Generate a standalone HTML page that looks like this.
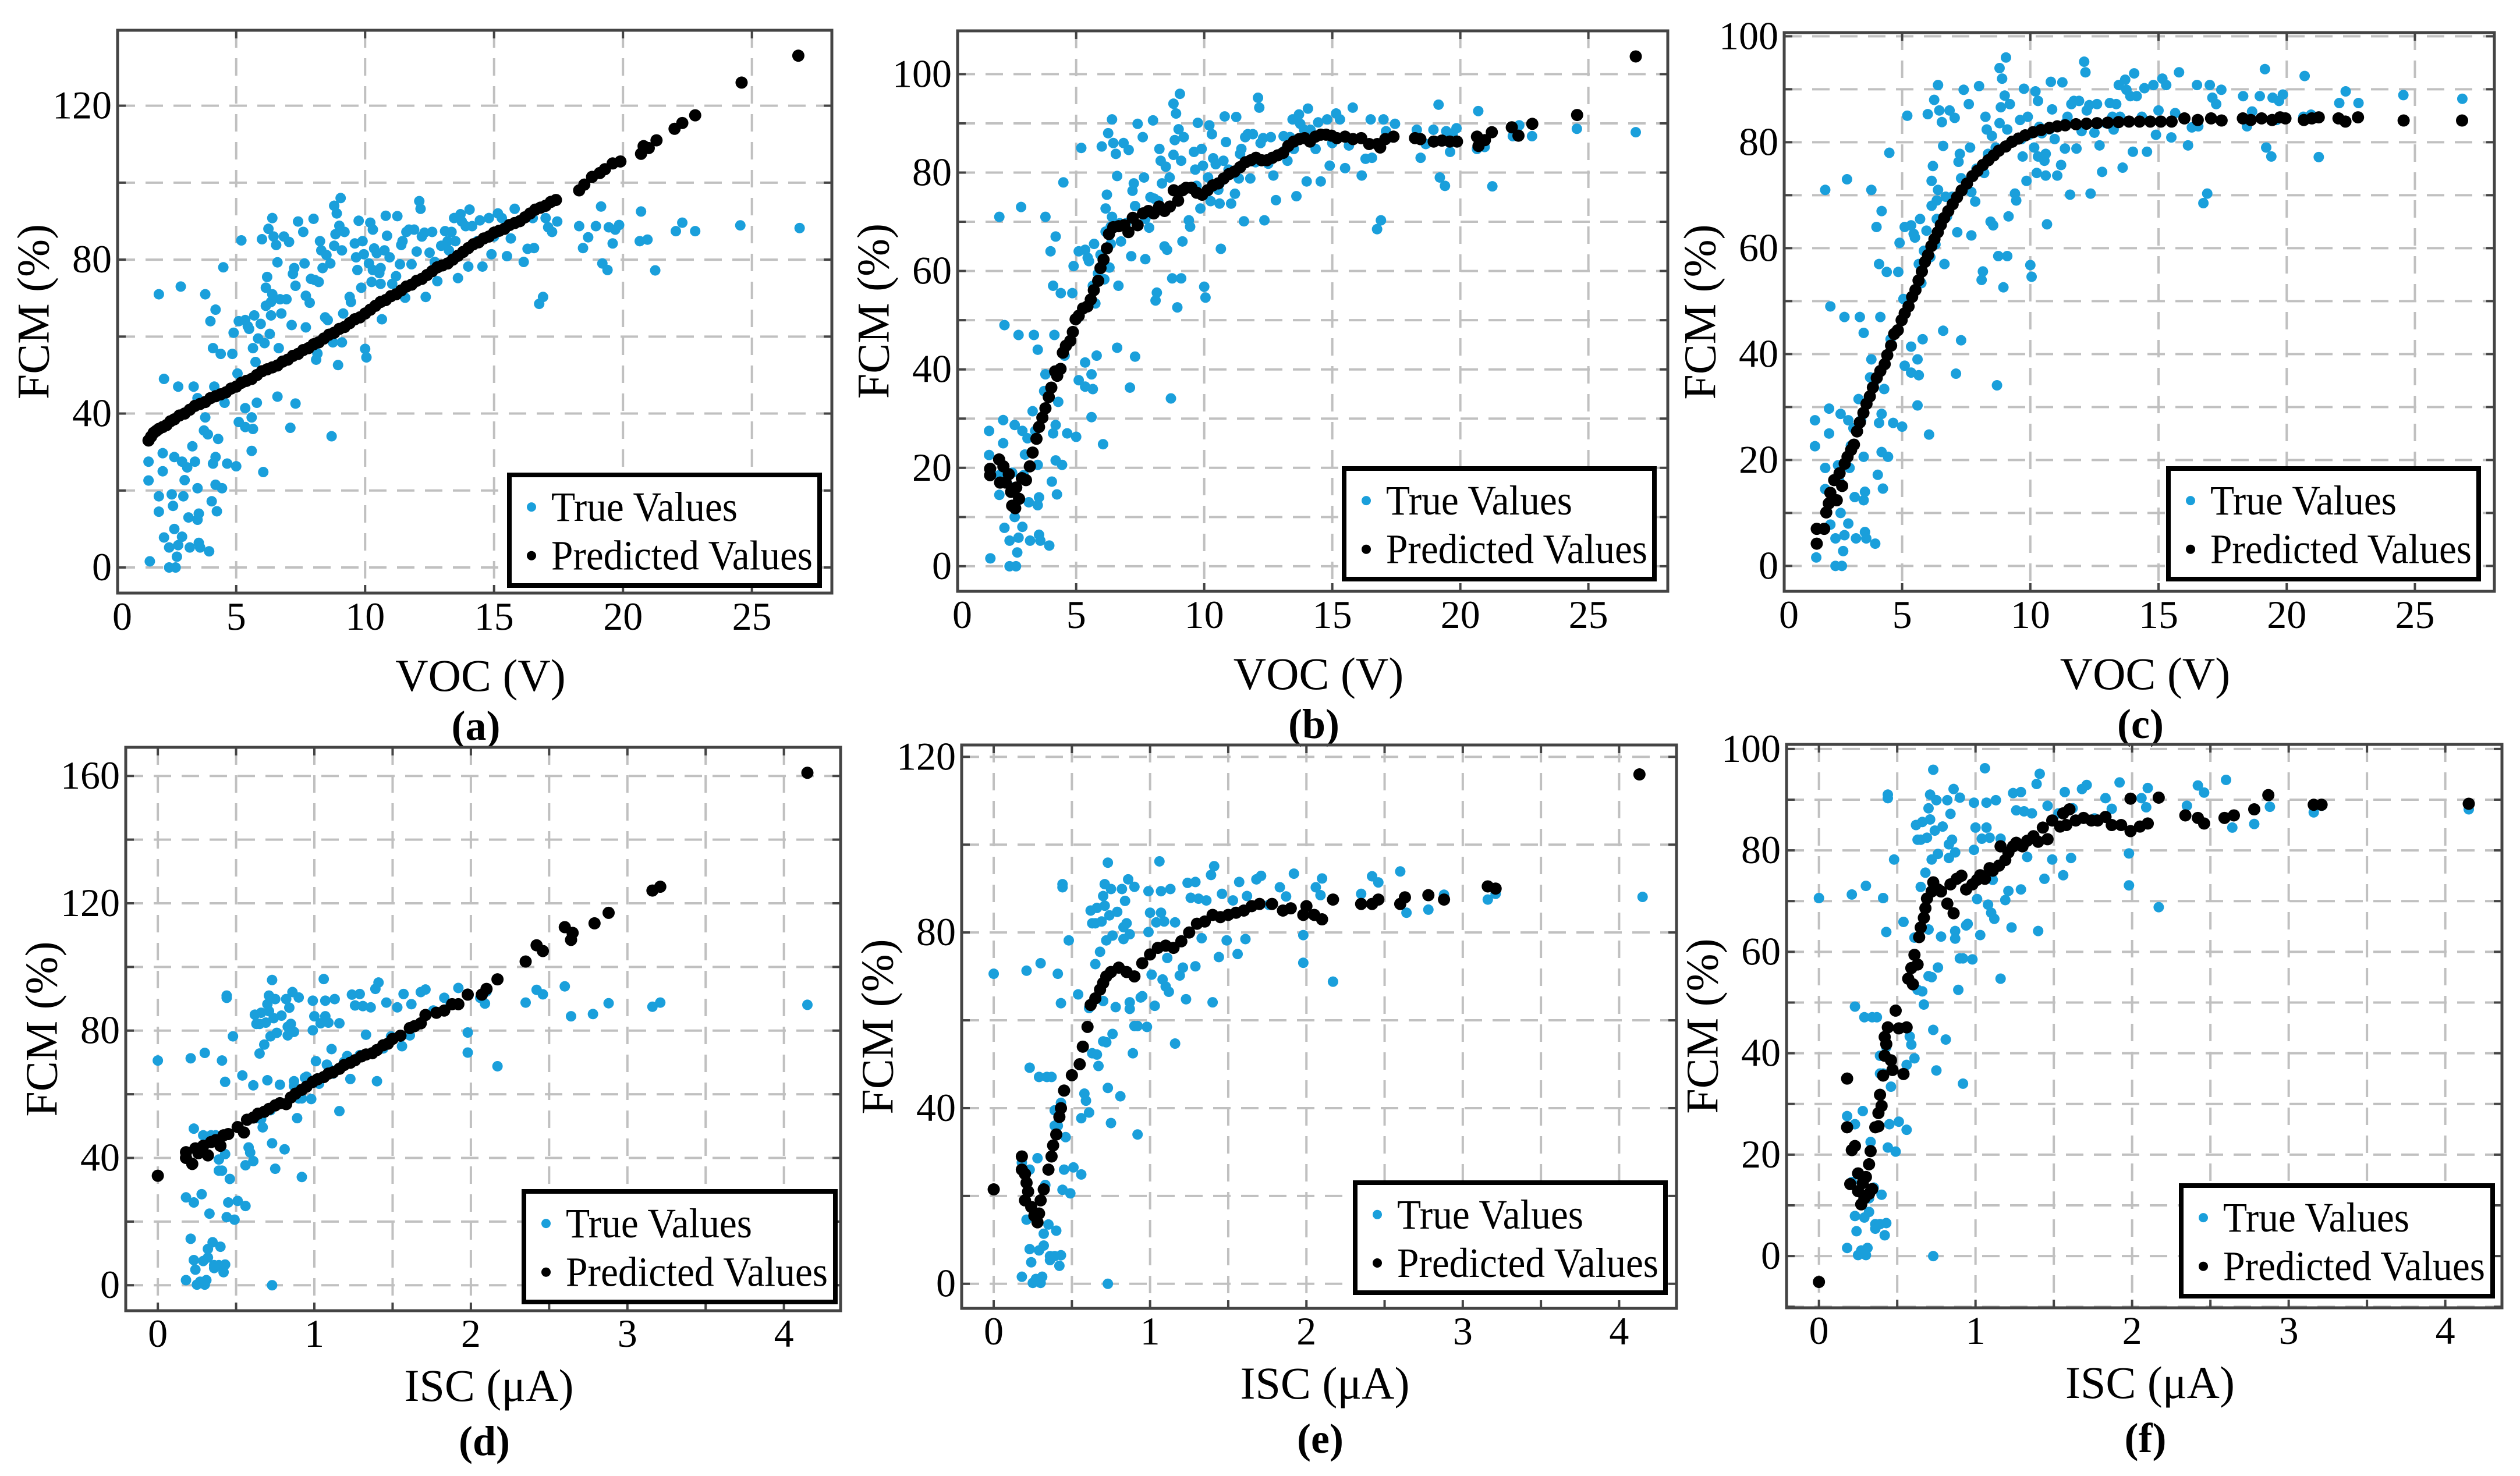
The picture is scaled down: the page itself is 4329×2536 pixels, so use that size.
<!DOCTYPE html>
<html><head><meta charset="utf-8"><style>
html,body{margin:0;padding:0;background:#fff;}
svg, svg text{font-family:"Liberation Serif","DejaVu Serif",serif;}
</style></head><body>
<svg id="fig" width="4329" height="2531" viewBox="0 0 4329 2531" xmlns="http://www.w3.org/2000/svg" font-family="Liberation Serif, DejaVu Serif, serif"></svg>
<script>
// ---- True values (VOC vs FCM), shared by panels a, b, c ----
const vocX=[1.65,1.6,1.6,2.0,2.0,2.0,2.15,2.15,2.2,2.2,2.4,2.4,2.5,2.55,2.6,2.6,2.65,2.7,2.75,2.75,2.85,2.9,2.9,2.95,3.0,3.1,3.15,3.2,3.3,3.35,3.4,3.5,3.5,3.5,3.55,3.55,3.6,3.75,3.8,3.8,3.9,3.95,4.0,4.05,4.1,4.1,4.15,4.2,4.2,4.2,4.25,4.3,4.4,4.45,4.5,4.55,4.65,4.85,4.9,5.0,5.05,5.1,5.1,5.2,5.35,5.35,5.35,5.45,5.5,5.6,5.6,5.65,5.65,5.7,5.75,5.8,5.85,5.95,6.0,6.05,6.1,6.15,6.15,6.2,6.25,6.3,6.35,6.35,6.4,6.4,6.45,6.55,6.6,6.6,6.65,6.7,6.75,6.85,6.95,7.05,7.1,7.15,7.2,7.25,7.3,7.3,7.4,7.6,7.65,7.7,7.7,7.85,7.9,8.0,8.05,8.1,8.15,8.2,8.25,8.3,8.35,8.45,8.5,8.55,8.65,8.7,8.75,8.8,8.8,8.85,8.9,8.95,9.0,9.05,9.1,9.1,9.15,9.2,9.4,9.45,9.6,9.65,9.7,9.75,9.85,9.9,9.95,10.0,10.05,10.15,10.2,10.25,10.3,10.3,10.35,10.45,10.55,10.6,10.6,10.65,10.75,10.8,10.85,10.95,11.05,11.2,11.25,11.35,11.4,11.45,11.55,11.6,11.7,11.8,11.9,12.0,12.1,12.15,12.2,12.3,12.35,12.5,12.6,12.7,12.8,12.95,13.1,13.2,13.25,13.35,13.45,13.5,13.6,13.7,13.75,13.9,14.0,14.05,14.15,14.35,14.45,14.55,14.8,14.9,15.0,15.15,15.3,15.5,15.65,15.8,16.15,16.3,16.5,16.55,16.75,16.9,17.0,17.1,17.25,17.45,18.3,18.45,18.65,18.95,19.15,19.2,19.4,19.45,19.6,19.7,19.85,20.65,20.7,20.95,21.25,22.05,22.3,22.8,24.55,26.85];
const vocY=[1.6,22.6,27.5,71,18.5,14.5,25,29.7,49,7.8,5.2,0,19,16,28.7,10,0,2.8,5.8,47,73,27.5,8,18.5,22.7,26,13,5.2,31.5,47,27.5,20.6,12.4,44,14,6.4,5.2,35.6,71,39,34.6,4.2,64,17.2,27,57,47,67,28.7,21.5,14.6,33.4,55.5,20.6,78,42.8,27,55.5,61,26.3,50.4,37.8,64,85,41.4,64.3,36.5,62.7,62,39,30.3,36,57,65.5,53.4,42.8,59.5,63.3,85.3,24.8,58.3,68,72.7,75.5,88,60.7,69,65.5,71,90.8,86,83.8,44.4,79.3,57,69.7,66,86,69.7,84.6,36.3,63,76.3,77.8,42.6,73.2,89.9,87.2,79,70.6,62.4,68.8,75,90.6,74.7,54,55.6,74.2,84.8,82.4,77.8,65,81.2,64.3,79,34.1,58.5,83.6,94,86.6,92,52.6,88.8,96,82.4,58.5,66,87.2,70.3,69,84.2,80.6,77.3,90.1,72.7,84.8,81.4,56.8,54.6,79,89.6,74.2,87.8,77.3,82.9,81.7,76.5,77.8,73.7,64.5,82.4,91.4,86.2,80.6,73.7,75.7,91.3,78.8,83.8,84.8,70.1,87.2,87.8,78.8,87.8,82.1,95.2,93.2,86,87,70.3,81.8,87.2,79.4,74.4,83.6,87.4,84.8,82.4,87.2,90.8,84.8,75.2,91.8,89.9,88.7,78.2,93,88.7,84.8,90.2,78.2,90.8,81.4,86,92,90.8,80.9,85.5,93.2,79.4,82.8,90.8,83,68.5,70.3,90.8,88.4,87.2,89.9,88.7,83,85.8,88.7,93.8,79,77.3,88.4,84.2,87.8,89,84.8,92.5,85.2,77.2,87.4,89.6,87.4,88.9,88.2];

// ---- True values (ISC vs FCM), shared by panels d, e, f ----
const iscX=[0,0.18,0.18,0.21,0.21,0.23,0.23,0.23,0.24,0.25,0.27,0.28,0.29,0.29,0.3,0.3,0.31,0.32,0.32,0.33,0.34,0.35,0.36,0.36,0.37,0.39,0.39,0.39,0.4,0.41,0.41,0.42,0.43,0.43,0.43,0.44,0.44,0.44,0.45,0.46,0.48,0.49,0.51,0.54,0.56,0.56,0.58,0.59,0.61,0.61,0.62,0.63,0.63,0.65,0.65,0.66,0.66,0.67,0.68,0.69,0.7,0.7,0.71,0.7,0.71,0.72,0.72,0.73,0.73,0.74,0.75,0.75,0.76,0.76,0.78,0.79,0.81,0.82,0.83,0.83,0.84,0.85,0.86,0.87,0.87,0.87,0.89,0.9,0.9,0.92,0.92,0.94,0.95,0.98,0.99,0.99,1.0,1.01,1.03,1.04,1.06,1.07,1.07,1.08,1.09,1.1,1.11,1.12,1.13,1.16,1.16,1.19,1.21,1.23,1.24,1.26,1.29,1.29,1.31,1.33,1.36,1.39,1.4,1.41,1.44,1.46,1.49,1.53,1.56,1.57,1.61,1.62,1.68,1.71,1.76,1.83,1.87,1.92,1.98,1.98,2.06,2.09,2.1,2.17,2.35,2.42,2.46,2.6,2.64,2.78,2.88,3.16,3.21,4.15,0.73];
const iscY=[70.6,1.6,27.6,71.3,14.6,7.9,49.2,26,4.9,0.2,1.1,28.6,7.6,47.1,73,0.2,1.6,8.7,11.4,22.5,47.1,13.5,6.3,5.4,47.1,39.5,36,6.3,12.1,70.6,36,4.1,6.5,41.2,63.9,21.4,91,90.3,26,33.4,78.2,20.6,26.5,65.9,37.7,24.9,43.3,41.7,62.8,39,85,82.1,52.5,82.1,72.8,85.6,52.2,49.6,75.6,82.5,64.4,55.2,91,88.3,86.1,78.2,55,44.6,95.9,83.9,89.9,36.6,79.3,56.9,63,84.7,42.7,89.9,78.5,81.2,87.2,82.1,92.1,79.6,62.6,64.1,52.5,90.4,58.7,58.7,34,65.2,65.5,58.5,80.1,89.4,84.5,70.4,63.3,82.3,96.2,84.5,89.4,69.3,82.5,67.7,74.2,66.5,89.9,82.3,54.7,70.2,72,64.8,91.3,87.9,72.3,91.5,87.7,78.7,87.3,93.1,64.1,95.1,74.4,88.8,78.2,87.3,75.1,91.5,78.5,88.3,92.1,92.9,86.3,90.3,88.2,93.4,79.4,73.1,90.3,88.5,92.3,68.8,88.8,92.8,91.4,93.9,84.5,85.2,88.6,87.5,88.8,88.1,0];

// ---- Predicted values per panel ----
const predAX=[1.6,1.7,1.8,1.9,2.0,2.15,2.3,2.45,2.6,2.8,3.0,3.2,3.4,3.6,3.8,4.0,4.2,4.4,4.6,4.8,5.0,5.2,5.4,5.6,5.8,6.0,6.2,6.4,6.6,6.8,7.0,7.2,7.4,7.6,7.8,8.0,8.2,8.4,8.6,8.8,9.0,9.2,9.4,9.6,9.8,10.0,10.2,10.4,10.6,10.8,11.0,11.2,11.4,11.6,11.8,12.0,12.2,12.4,12.6,12.8,13.0,13.2,13.4,13.6,13.8,14.0,14.2,14.4,14.6,14.8,15.0,15.2,15.4,15.6,15.8,16.0,16.2,16.4,16.6,16.8,17.0,17.2,17.4,18.3,18.5,18.8,19.1,19.3,19.6,19.9,20.7,20.8,21.0,21.3,22.0,22.3,22.8,24.6,26.8];
const predAY=[33,34,35,35.5,36,36.5,37,38,38.5,39.5,40,41,42,42.5,43,44,44.5,45,45.5,46.5,47,48,48.5,49,50,51,51.5,52,52.5,53.5,54,55,55.5,56.5,57,58,58.5,59.5,60.5,61,62,62.5,63.5,64.5,65,66,67,68,69,69.5,70.5,71,72,73,73.5,74.5,75,76,77,78,78.5,79,80,81,82,83,84,84.5,85.5,86,87,87.5,88,89,89.5,90,91,92,93,93.5,94,95,95.5,98,99.5,101.5,102.5,103.5,105,105.5,107.5,109.5,109,111,114,115.5,117.5,126,133];
const predBX=[1.64,1.64,1.99,2.16,2.03,2.25,2.37,2.46,2.5,2.62,2.66,2.77,2.88,3.04,3.19,3.3,3.45,3.55,3.68,3.8,3.93,4.03,4.18,4.26,4.39,4.48,4.6,4.77,4.87,4.98,5.1,5.27,5.44,5.57,5.69,5.86,5.95,6.07,6.2,6.28,6.45,6.66,6.87,7.04,7.21,7.4,7.61,7.82,8.03,8.24,8.45,8.66,8.81,8.98,9.15,9.29,9.5,9.71,9.92,10.13,10.34,10.55,10.76,10.97,11.18,11.4,11.61,11.82,12.02,12.24,12.45,12.66,12.87,13.08,13.28,13.5,13.71,13.92,14.13,14.34,14.55,14.76,14.97,15.18,15.5,15.81,16.13,16.44,16.76,16.87,17.07,17.39,18.23,18.44,18.96,19.28,19.59,19.87,20.65,20.71,20.96,21.23,22.01,22.27,22.81,24.56,26.85];
const predBY=[19.8,18.5,21.7,20.3,17,17,18.7,15.1,12.3,11.8,16,13.7,17.9,17.5,20.3,23.1,25.9,28.3,30.2,32.1,34.4,36.3,39.6,38.7,40.1,43.4,44.8,45.8,47.6,50.2,50.9,52.4,52.8,54.2,56.1,58,60.6,62.3,64.6,67.5,68.9,69.1,69.3,67.9,70.8,69.3,71.7,72.2,71.7,73.1,72.2,73.1,76.4,74.3,76.4,76.9,76.9,75.9,75.5,76.4,77.4,77.8,78.8,79.7,80.2,81.1,82.1,82.5,83,82.5,82.5,83,83.5,84,85.4,86.3,86.8,87,86.3,87.3,87.7,87.7,87.5,87,87.3,86.8,87,85.8,85.8,85.1,86.8,87.3,87,86.8,86.3,86.5,86.3,86.3,87.3,85.4,86.6,88.2,89.2,87.5,89.9,91.7,103.6];
const predCX=[1.67,1.67,1.96,2.04,2.14,2.2,2.35,2.45,2.56,2.66,2.76,2.87,3.01,3.12,3.24,3.35,3.49,3.61,3.74,3.86,4.01,4.15,4.32,4.42,4.57,4.69,4.83,4.98,5.1,5.25,5.39,5.52,5.64,5.77,5.89,6.01,6.14,6.26,6.39,6.51,6.64,6.8,6.97,7.14,7.32,7.53,7.74,7.94,8.15,8.36,8.57,8.77,9.04,9.29,9.54,9.8,10.11,10.42,10.74,11.05,11.36,11.78,12.19,12.6,13.02,13.44,13.85,14.26,14.68,15.09,15.51,16.01,16.53,17.05,17.46,18.29,18.6,19.02,19.43,19.74,19.95,20.67,20.98,21.25,22.02,22.29,22.78,24.56,26.84];
const predCY=[7,4.2,7,10.1,11.8,13.8,16.2,12.4,17.5,15.1,19.3,20.6,21.9,22.9,25.4,27.1,28.9,30.6,32,33.7,35.5,36.8,38.1,39.8,41.6,43.8,44.5,46.4,47.7,49,50.8,52.1,53.9,55.6,57.4,58.7,60.4,61.7,63,64.4,65.7,67,68.3,69.6,70.9,72.2,73.6,74.6,75.7,76.6,77.5,78.4,79.2,80.1,80.7,81.3,81.9,82.3,82.7,83,83.2,83.4,83.5,83.6,83.7,83.8,83.9,83.9,83.9,83.9,83.9,84.5,84.2,84.5,84.1,84.5,84.2,84.5,84.2,84.7,84.5,84.2,84.5,84.7,84.5,83.9,84.7,84.1,84.1];
const predDX=[0,0.18,0.18,0.22,0.24,0.26,0.29,0.32,0.34,0.37,0.4,0.42,0.45,0.51,0.55,0.57,0.61,0.64,0.68,0.71,0.75,0.78,0.82,0.85,0.88,0.92,0.95,0.99,1.02,1.06,1.09,1.12,1.16,1.19,1.23,1.26,1.3,1.33,1.37,1.4,1.44,1.47,1.5,1.55,1.61,1.64,1.68,1.71,1.78,1.83,1.88,1.92,1.98,2.07,2.1,2.17,2.35,2.42,2.46,2.6,2.64,2.65,2.79,2.88,3.16,3.21,4.15];
const predDY=[34.4,41.8,40,38.1,43,41.5,43.8,40.8,45,45.6,43.8,47.1,47.5,49.7,48,52,52.7,53.9,54.5,55.4,56.5,57.2,56.9,59,60.2,61.4,62.4,63.9,64.7,65.4,66.5,66.9,68,69.2,69.9,70.7,71.9,72.5,72.9,73.9,75.4,75.9,77.4,78.4,80.8,81.4,82.3,84.9,85.6,86.3,88.3,88.3,91.3,91.3,93.1,96.1,101.7,106.8,105,112.5,108.5,110.7,113.7,117,124,125.2,161];
const predEX=[0,0.18,0.18,0.2,0.21,0.22,0.2,0.24,0.26,0.28,0.29,0.3,0.32,0.35,0.37,0.38,0.4,0.42,0.43,0.45,0.5,0.55,0.57,0.6,0.62,0.65,0.68,0.7,0.72,0.75,0.8,0.85,0.9,0.95,1.0,1.05,1.1,1.15,1.2,1.25,1.3,1.35,1.4,1.45,1.5,1.55,1.6,1.65,1.7,1.78,1.85,1.9,1.98,2.0,2.05,2.1,2.17,2.35,2.42,2.46,2.6,2.63,2.78,2.88,3.16,3.21,4.13];
const predEY=[21.5,29,26,25,23,21,19,17.5,15.5,14,16,19,21.5,26,29,31.5,34,38,40,44,47.5,50,54,58.5,63.5,65,67,68.5,70,71,72,71,70,73,75,76.5,77,76.5,78,80,82,82.5,84,83.5,84,84.5,85,86,86.5,86.5,85,85.5,84,86,84,83,87.5,86.5,86.5,87.5,86.5,88,88.5,87.5,90.5,90,116];
const predFX=[0,0.18,0.18,0.2,0.21,0.23,0.25,0.25,0.27,0.28,0.29,0.3,0.32,0.32,0.33,0.34,0.36,0.38,0.38,0.39,0.4,0.41,0.42,0.42,0.43,0.44,0.46,0.47,0.49,0.51,0.54,0.56,0.57,0.59,0.6,0.61,0.63,0.64,0.65,0.67,0.68,0.69,0.72,0.73,0.76,0.78,0.82,0.84,0.86,0.88,0.91,0.94,0.98,1.01,1.03,1.06,1.09,1.11,1.15,1.16,1.19,1.21,1.24,1.26,1.3,1.33,1.37,1.4,1.43,1.46,1.49,1.54,1.58,1.56,1.6,1.64,1.69,1.74,1.78,1.83,1.87,1.93,1.99,1.99,2.05,2.1,2.17,2.34,2.42,2.46,2.59,2.65,2.78,2.87,3.16,3.21,4.15];
const predFY=[-5.1,35,25.4,14.2,20.9,21.7,16.3,12.8,10.2,14.4,11.4,15.6,12.3,18.1,20.7,13.2,25.4,25.6,28.2,31.8,29.6,35.6,43.2,39.5,41.8,45.1,38.6,36.7,48.4,44.9,35.9,45.1,54.7,56.8,53.6,59.4,57.5,62.9,64.8,66.7,68.6,70.5,71.9,73.7,72.3,71.9,69.5,73.3,67.6,74.4,75,72.3,73.3,74.2,75.1,74.4,76.5,76,77,80.8,78.1,79.6,80.8,81.5,80.8,81.9,82.8,81.7,84.5,82.2,85.9,84.7,85,87.3,88.1,85.9,86.4,85.9,85.9,86.6,85,85,83.8,90.2,84.7,85.3,90.4,86.9,86.4,85.3,86.4,86.9,88.1,90.9,89,89,89.2];

// ---- tick label arrays ----
const vocTicks=[0,5,10,15,20,25];
const iscTicks=[0,1,2,3,4];
const yTicksA=[0,40,80,120];
const yTicksB=[0,20,40,60,80,100];
const yTicksD=[0,40,80,120,160];
const yTicksE=[0,40,80,120];

const NS="http://www.w3.org/2000/svg";
const FONT='"Liberation Serif","DejaVu Serif",serif';
const svg=document.getElementById('fig');
function mk(tag,attrs,parent){const e=document.createElementNS(NS,tag);for(const k in attrs)e.setAttribute(k,attrs[k]);if(tag==='text')e.style.fontFamily=FONT;(parent||svg).appendChild(e);return e;}

const panels=[
 {id:'a',L:202,R:1429,T:52,B:1019,x0:0.40,x1:28.1,y0:-6.65,y1:139.6,xt:vocTicks,xg:5,yt:yTicksA,yg:20,tx:vocX,ty:vocY,px:predAX,py:predAY,xl:'VOC (V)',lg:[875,816,1408,1006],row:0},
 {id:'b',L:1645,R:2865,T:53,B:1016,x0:0.37,x1:28.1,y0:-5.1,y1:108.8,xt:vocTicks,xg:5,yt:yTicksB,yg:10,tx:vocX,ty:vocY,px:predBX,py:predBY,xl:'VOC (V)',lg:[2309,805,2842,995],row:0},
 {id:'c',L:3065,R:4285,T:56,B:1016,x0:0.40,x1:28.1,y0:-4.8,y1:100.7,xt:vocTicks,xg:5,yt:yTicksB,yg:10,tx:vocX,ty:vocY,px:predCX,py:predCY,xl:'VOC (V)',lg:[3725,805,4258,995],row:0},
 {id:'d',L:216,R:1444,T:1284,B:2252,x0:-0.205,x1:4.362,y0:-8.0,y1:169,xt:iscTicks,xg:0.5,yt:yTicksD,yg:20,tx:iscX,ty:iscY,px:predDX,py:predDY,xl:'ISC (\u03bcA)',lg:[900,2047,1435,2237],row:1},
 {id:'e',L:1652,R:2880,T:1280,B:2248,x0:-0.205,x1:4.367,y0:-5.6,y1:122.7,xt:iscTicks,xg:0.5,yt:yTicksE,yg:20,tx:iscX,ty:iscY,px:predEX,py:predEY,xl:'ISC (\u03bcA)',lg:[2328,2032,2861,2221],row:1},
 {id:'f',L:3069,R:4298,T:1279,B:2247,x0:-0.207,x1:4.362,y0:-10.2,y1:100.9,xt:iscTicks,xg:0.5,yt:yTicksB,yg:10,tx:iscX,ty:iscY,px:predFX,py:predFY,xl:'ISC (\u03bcA)',lg:[3747,2037,4282,2227],row:1}
];

function sx(p,v){return p.L+(v-p.x0)/(p.x1-p.x0)*(p.R-p.L);}
function sy(p,v){return p.B-(v-p.y0)/(p.y1-p.y0)*(p.B-p.T);}

panels.forEach(p=>{
 const g=mk('g',{});
 
 
 const clipId='clip'+p.id;
 const cp=mk('clipPath',{id:clipId},g);mk('rect',{x:p.L,y:p.T,width:p.R-p.L,height:p.B-p.T},cp);
 const grid=mk('g',{stroke:'#c0c0c0','stroke-width':4,'stroke-dasharray':'30,18'},g);
 
 
 for(let v=Math.ceil(p.x0/p.xg)*p.xg;v<p.x1;v+=p.xg){const x=sx(p,v);if(x-p.L<4)continue;mk('line',{x1:x,x2:x,y1:p.T,y2:p.B},grid);
  mk('line',{x1:x,x2:x,y1:p.B,y2:p.B-14,stroke:'#444','stroke-width':4},g);mk('line',{x1:x,x2:x,y1:p.T,y2:p.T+14,stroke:'#444','stroke-width':4},g);}
 for(let v=Math.ceil(p.y0/p.yg)*p.yg;v<p.y1;v+=p.yg){const y=sy(p,v);mk('line',{x1:p.L,x2:p.R,y1:y,y2:y},grid);
  mk('line',{x1:p.L,x2:p.L+14,y1:y,y2:y,stroke:'#444','stroke-width':4},g);mk('line',{x1:p.R,x2:p.R-14,y1:y,y2:y,stroke:'#444','stroke-width':4},g);}
 const tg=mk('g',{fill:'#1a9fdb','clip-path':'url(#'+clipId+')'},g);
 
 
 p.tx.forEach((xv,i)=>{const c=mk('circle',{cx:sx(p,xv),cy:sy(p,p.ty[i]),r:9},tg);
  
  });
 const pg=mk('g',{fill:'#000','clip-path':'url(#'+clipId+')'},g);
 
 
 p.px.forEach((xv,i)=>{const c=mk('circle',{cx:sx(p,xv),cy:sy(p,p.py[i]),r:10.5},pg);
  
  });
 const fr=mk('rect',{x:p.L,y:p.T,width:p.R-p.L,height:p.B-p.T,fill:'none',stroke:'#444','stroke-width':5},g);
 
 
 const offs=p.row===0?{t:63,xl:168,pl:252}:{t:62,xl:155,pl:248};
 p.xt.forEach(v=>{let x=sx(p,v);if(x<p.L+8)x=p.L+8;const t=mk('text',{x:x,y:p.B+offs.t,'font-size':68,'text-anchor':'middle',fill:'#000'},g);t.textContent=v;
  
  });
 p.yt.forEach(v=>{const t=mk('text',{x:p.L-10,y:sy(p,v)+22,'font-size':68,'text-anchor':'end',fill:'#000'},g);t.textContent=v;
  
  });
 const cx=(p.L+p.R)/2+10;
 const xt=mk('text',{x:cx,y:p.B+offs.xl,'font-size':78,'text-anchor':'middle'},g);xt.textContent=p.xl;
 
 
 const yc=(p.T+p.B)/2, yx=p.L-145;
 const yt=mk('text',{x:yx,y:yc,'font-size':78,'text-anchor':'middle','dominant-baseline':'central',transform:'rotate(-90 '+yx+' '+yc+')'},g);yt.textContent='FCM (%)';
 
 
 const pl=mk('text',{x:cx-8,y:p.B+offs.pl,'font-size':72,'font-weight':'bold','text-anchor':'middle'},g);pl.textContent='('+p.id+')';
 
 
 const [lx,ly,rx,ry]=p.lg;
 const lgG=mk('g',{},g);
 
 
 mk('rect',{x:lx,y:ly,width:rx-lx,height:ry-ly,fill:'#fff',stroke:'#000','stroke-width':8},lgG);
 const h=ry-ly;
 mk('circle',{cx:lx+38,cy:ly+h*0.29,r:8,fill:'#1a9fdb'},lgG);
 mk('circle',{cx:lx+38,cy:ly+h*0.73,r:8,fill:'#000'},lgG);
 const t1=mk('text',{x:lx+72,y:ly+h*0.29+24,'font-size':72,textLength:320,lengthAdjust:'spacingAndGlyphs'},lgG);t1.textContent='True Values';
 
 
 const t2=mk('text',{x:lx+72,y:ly+h*0.73+24,'font-size':72,textLength:Math.min(450,rx-lx-84),lengthAdjust:'spacingAndGlyphs'},lgG);t2.textContent='Predicted Values';
 
 
});
</script>
</body></html>
